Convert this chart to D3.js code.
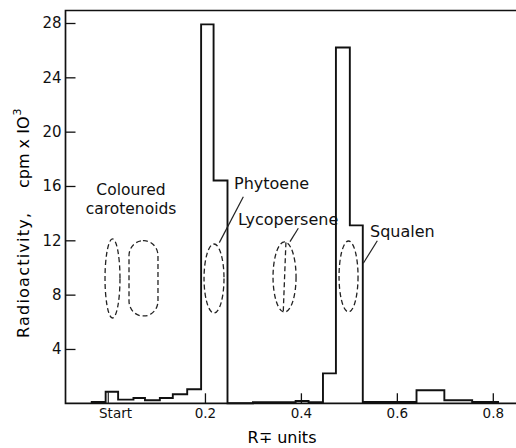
<!DOCTYPE html>
<html lang="en">
<head>
  <meta charset="UTF-8" />
  <title>Radioactivity vs Rf</title>
  <script src="https://d3js.org/d3.v7.min.js"></script>
  <style>
    body { margin: 0; background: #fff; }
    svg { display: block; font-family: "DejaVu Sans", sans-serif; }
    .frame { stroke: #111; fill: none; }
    .hist { fill: none; stroke: #111; stroke-width: 1.9; stroke-linejoin: miter; }
    .spot { fill: none; stroke: #222; stroke-width: 1.3; stroke-dasharray: 5 3; }
    .lead { stroke: #222; stroke-width: 1.2; }
    .axis text { font-family: "DejaVu Sans", sans-serif; fill: #111; }
    .axis line { stroke: #111; stroke-width: 1.3; }
    .note { font-size: 16px; fill: #111; }
  </style>
</head>
<body>
  <svg width="516" height="448"></svg>

  <script>
    // histogram bin edges (Rf units) and counts (cpm x 10^3)
    const binEdges = [-0.036, -0.007, 0.019, 0.051, 0.075, 0.106, 0.133, 0.163, 0.192,
                      0.218, 0.247, 0.30, 0.389, 0.416, 0.446, 0.473, 0.502, 0.529,
                      0.60, 0.641, 0.699, 0.757, 0.811];
    const binValues = [0.1, 0.85, 0.27, 0.39, 0.22, 0.39, 0.67, 1.04,
                       27.9, 16.4, 0.0, 0.08, 0.17, 0.08, 2.2, 26.2, 13.1,
                       0.1, 0.1, 0.96, 0.22, 0.1];

    const yTicks = [4, 8, 12, 16, 20, 24, 28];
    const xTickValues = [0.0125, 0.2, 0.4, 0.6, 0.8];
    const xTickLabels = ["Start", "0.2", "0.4", "0.6", "0.8"];

    // dashed spots of the chromatogram (centre + half sizes, data units)
    const spots = [
      { cx: 0.0073, cy: 9.19, rx: 0.0156, ry: 2.91, round: false },
      { cx: 0.0719, cy: 9.20, rx: 0.0302, ry: 2.77, round: true },
      { cx: 0.2189, cy: 9.19, rx: 0.0208, ry: 2.54, round: false },
      { cx: 0.3659, cy: 9.30, rx: 0.0240, ry: 2.58, round: false },
      { cx: 0.4993, cy: 9.34, rx: 0.0198, ry: 2.61, round: false }
    ];

    const labels = [
      { text: "Coloured", x: 0.0459, y: 15.33, anchor: "middle", size: 15.5 },
      { text: "carotenoids", x: 0.0459, y: 13.93, anchor: "middle", size: 15.5 },
      { text: "Phytoene", x: 0.2606, y: 15.78, anchor: "start", size: 16 },
      { text: "Lycopersene", x: 0.2689, y: 13.13, anchor: "start", size: 16 },
      { text: "Squalen", x: 0.5441, y: 12.24, anchor: "start", size: 16 }
    ];
    const leaders = [
      [[0.280, 15.21], [0.230, 11.83]],
      [[0.3946, 12.89], [0.3773, 11.90]],
      [[0.5593, 11.97], [0.5301, 10.31]],
      [[0.3688, 11.85], [0.3633, 6.80]]   // line through the lycopersene spot
    ];

    const svg = d3.select("svg");
    const frameLeft = 65.5, frameTop = 10.5, frameRight = 516;

    const x = d3.scaleLinear().domain([0, 0.8]).range([109, 492.8]);
    const y = d3.scaleLinear().domain([0, 28]).range([403.3, 23]);
    const base = y(0);

    // frame
    svg.append("path")
      .attr("class", "frame")
      .attr("stroke-width", 1.7)
      .attr("d", `M${frameRight},${frameTop}H${frameLeft}V${base}H${frameRight}`);

    // y axis
    const yAxis = svg.append("g")
      .attr("class", "axis")
      .attr("transform", `translate(${frameLeft},0)`)
      .call(d3.axisLeft(y).tickValues(yTicks).tickSize(-10).tickSizeOuter(0).tickPadding(4));
    yAxis.select(".domain").remove();
    yAxis.selectAll("text").style("font-size", "15px");

    // x axis
    const xAxis = svg.append("g")
      .attr("class", "axis")
      .attr("transform", `translate(0,${base})`)
      .call(d3.axisBottom(x).tickValues(xTickValues).tickSize(-10).tickSizeOuter(0).tickPadding(5.5)
        .tickFormat((d, i) => xTickLabels[i]));
    xAxis.select(".domain").remove();
    xAxis.selectAll("text").style("font-size", "13.5px");
    xAxis.selectAll(".tick").filter((d, i) => i === 0).select("line").remove();

    // histogram outline
    const pts = [[binEdges[0], 0]];
    binValues.forEach((v, i) => {
      pts.push([binEdges[i], v]);
      pts.push([binEdges[i + 1], v]);
    });
    pts.push([binEdges[binEdges.length - 1], 0]);

    svg.append("path")
      .datum(pts)
      .attr("class", "hist")
      .attr("d", d3.line().x(d => x(d[0])).y(d => y(d[1])));

    // inner divider in the start fraction
    svg.append("line")
      .attr("class", "lead")
      .attr("stroke-width", 1.6)
      .attr("x1", x(-0.0015)).attr("x2", x(-0.0015))
      .attr("y1", base).attr("y2", y(binValues[1]));

    // spots
    spots.forEach(s => {
      const w = x(s.cx + s.rx) - x(s.cx - s.rx);
      const h = y(s.cy - s.ry) - y(s.cy + s.ry);
      if (s.round) {
        svg.append("rect")
          .attr("class", "spot")
          .attr("x", x(s.cx - s.rx)).attr("y", y(s.cy + s.ry))
          .attr("width", w).attr("height", h)
          .attr("rx", w * 0.48).attr("ry", h * 0.2);
      } else {
        svg.append("ellipse")
          .attr("class", "spot")
          .attr("cx", x(s.cx)).attr("cy", y(s.cy))
          .attr("rx", w / 2).attr("ry", h / 2);
      }
    });

    leaders.forEach((l, i) => {
      svg.append("line")
        .attr("class", i === 3 ? "spot" : "lead")
        .attr("x1", x(l[0][0])).attr("y1", y(l[0][1]))
        .attr("x2", x(l[1][0])).attr("y2", y(l[1][1]));
    });

    svg.selectAll(".note")
      .data(labels)
      .join("text")
        .attr("class", "note")
        .attr("x", d => x(d.x))
        .attr("y", d => y(d.y))
        .attr("text-anchor", d => d.anchor)
        .style("font-size", d => d.size + "px")
        .text(d => d.text);

    // axis titles
    svg.append("text")
      .attr("x", 282).attr("y", 443)
      .attr("text-anchor", "middle")
      .style("font-size", "16px")
      .text("R\u2213 units");

    const yt = svg.append("text")
      .attr("transform", "rotate(-90)")
      .style("font-size", "16px");
    yt.append("tspan")
      .attr("x", -338).attr("y", 28.5)
      .attr("textLength", 125)
      .attr("lengthAdjust", "spacing")
      .text("Radioactivity,");
    yt.append("tspan")
      .attr("x", -188).attr("y", 28.5)
      .text("cpm x IO");
    yt.append("tspan")
      .attr("dx", 1).attr("y", 21)
      .style("font-size", "11px")
      .text("3");
  </script>
</body>
</html>
